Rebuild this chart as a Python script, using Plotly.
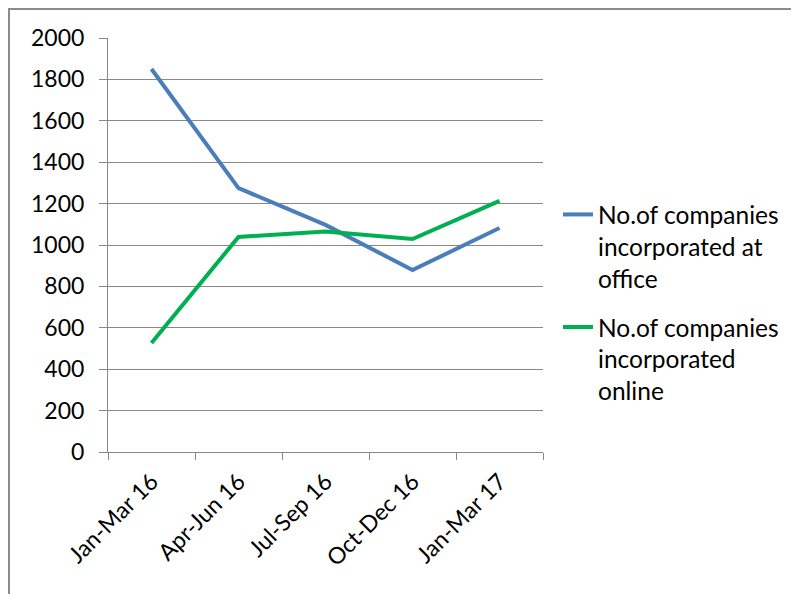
import plotly.graph_objects as go

categories = ["Jan-Mar 16", "Apr-Jun 16", "Jul-Sep 16", "Oct-Dec 16", "Jan-Mar 17"]
office = [1850, 1275, 1097, 879, 1082]
online = [527, 1039, 1065, 1029, 1213]
series_names = ["No.of companies<br>incorporated at<br>office",
                "No.of companies<br>incorporated<br>online"]
y_ticks = [0, 200, 400, 600, 800, 1000, 1200, 1400, 1600, 1800, 2000]

FONT = "Lato, 'Open Sans', sans-serif"
GRID = "#888888"

fig = go.Figure()
fig.add_trace(go.Scatter(x=categories, y=office, mode="lines", name=series_names[0],
                         legendgroup="a", line=dict(color="#4A7EBB", width=4)))
fig.add_trace(go.Scatter(x=categories, y=online, mode="lines", name=series_names[1],
                         legendgroup="b", line=dict(color="#00B050", width=4)))

OFF = 8  # page body margin
L, R, T, B = 108 - OFF, 543 - OFF, 38 - OFF, 452 - OFF
W, H = 799 - OFF, 594 - OFF
pw, ph = R - L, B - T

fig.update_layout(
    width=W, height=H,
    margin=dict(l=L, r=W - R, t=T, b=H - B),
    paper_bgcolor="white", plot_bgcolor="white",
    font=dict(family=FONT, size=23, color="black"),
    showlegend=True,
    legend=dict(x=(558 - OFF - L) / pw, xanchor="left", y=1 - (192 - OFF - T) / ph, yanchor="top",
                font=dict(size=24.5), valign="top", tracegroupgap=14,
                bgcolor="rgba(0,0,0,0)"),
    xaxis=dict(type="category", range=[-0.5, 4.5], tickson="boundaries",
               ticks="outside", ticklen=7, tickcolor=GRID, tickwidth=1,
               showline=True, linecolor=GRID, linewidth=1, showgrid=False,
               tickangle=-45, tickfont=dict(size=23), zeroline=False,
               ticklabelstandoff=6),
    yaxis=dict(range=[0, 2000], tickvals=y_ticks, ticks="outside", ticklen=8,
               tickcolor=GRID, tickwidth=1, showline=True, linecolor=GRID, linewidth=1,
               showgrid=True, gridcolor=GRID, gridwidth=1, zeroline=False,
               tickfont=dict(size=23), ticklabelstandoff=10),
    shapes=[dict(type="rect", xref="paper", yref="paper",
                 x0=(1 - L) / pw, x1=(W + 20 - L) / pw,
                 y0=1 - (H + 20 - T) / ph, y1=1 + (T - 1) / ph,
                 line=dict(color="#8c8c8c", width=2), layer="below")],
)

fig.write_html("out.html")
